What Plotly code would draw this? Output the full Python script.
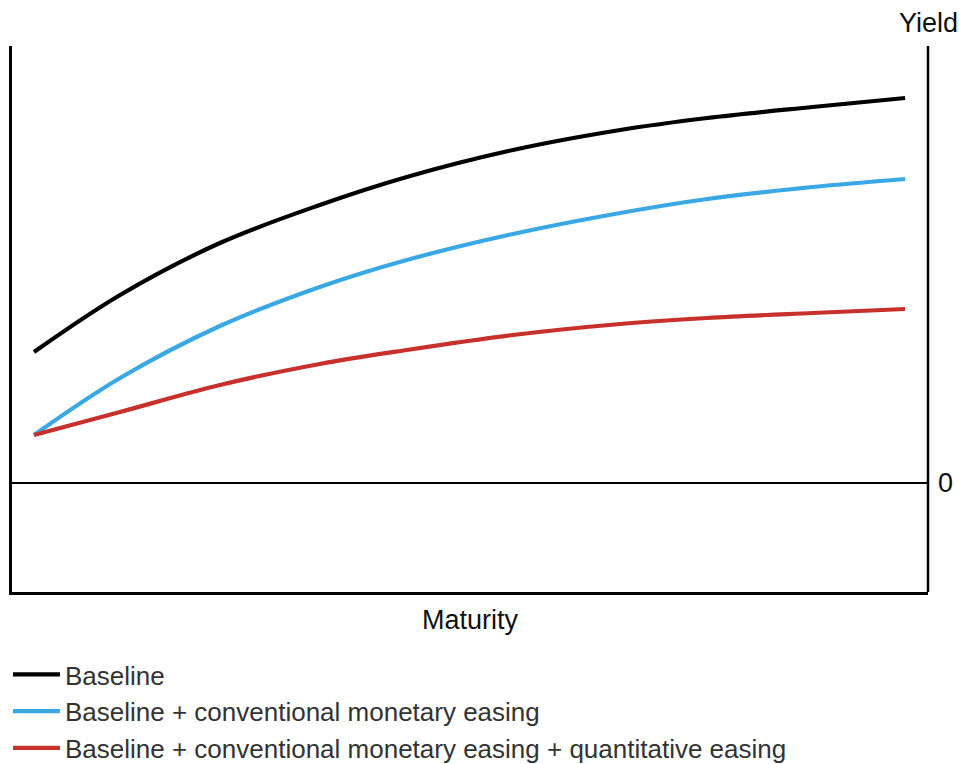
import plotly.graph_objects as go

# Data (arbitrary units)
maturity = [0.24, 1.18, 2.27, 3.36, 4.31, 5.47, 6.64, 7.59, 8.74, 9.75]
baseline = [13.1, 18.8, 24.0, 27.8, 30.6, 33.3, 35.3, 36.5, 37.6, 38.5]
conventional = [4.8, 10.5, 15.7, 19.6, 22.3, 24.9, 27.0, 28.4, 29.6, 30.4]
quantitative = [4.8, 7.1, 9.8, 11.9, 13.3, 14.8, 15.9, 16.5, 17.0, 17.4]

series_names = [
    "Baseline",
    "Baseline + conventional monetary easing",
    "Baseline + conventional monetary easing + quantitative easing",
]
series_values = [baseline, conventional, quantitative]
series_colors = ["#000000", "#3aa8e4", "#c8302c"]

FONT = "Liberation Sans, Arial, Helvetica, sans-serif"

fig = go.Figure()
for name, vals, col in zip(series_names, series_values, series_colors):
    fig.add_trace(go.Scatter(
        x=maturity, y=vals, mode="lines", name=name,
        line=dict(color=col, width=4.2, shape="spline", smoothing=1.0),
    ))

fig.update_layout(
    width=959, height=764,
    margin=dict(l=12, r=31, t=46, b=172, autoexpand=False),
    paper_bgcolor="white", plot_bgcolor="white",
    font=dict(family=FONT, size=27, color="#111111"),
    showlegend=True,
    legend=dict(
        x=-0.0044, y=-0.108, xanchor="left", yanchor="top",
        font=dict(family=FONT, size=26, color="#333333"),
        itemwidth=47, bgcolor="rgba(0,0,0,0)", tracegroupgap=0,
    ),
    xaxis=dict(
        range=[0, 10], showgrid=False, zeroline=False, showticklabels=False,
        ticks="", showline=True, linecolor="black", linewidth=2.5,
        fixedrange=True,
    ),
    yaxis=dict(
        range=[-10.9, 43.7], showgrid=False, showticklabels=False, ticks="",
        zeroline=True, zerolinecolor="black", zerolinewidth=2,
        showline=True, linecolor="black", linewidth=2.5, fixedrange=True,
    ),
    shapes=[dict(type="line", xref="paper", yref="paper", x0=1, x1=1, y0=0, y1=1,
                 line=dict(color="black", width=2.5))],
    annotations=[
        dict(text="Yield", xref="paper", yref="paper", x=1.0, y=1.042,
             showarrow=False, xanchor="center", yanchor="middle",
             font=dict(size=27, color="#111111")),
        dict(text="0", xref="paper", yref="y", x=1.0186, y=0,
             showarrow=False, xanchor="center", yanchor="middle",
             font=dict(size=27, color="#111111")),
        dict(text="Maturity", xref="paper", yref="paper", x=0.5, y=-0.051,
             showarrow=False, xanchor="center", yanchor="middle",
             font=dict(size=27, color="#111111")),
    ],
)

fig.write_html(
    "out.html",
    config={"displayModeBar": False},
    post_script="document.body.style.margin='0px';document.body.style.overflow='hidden';",
)
